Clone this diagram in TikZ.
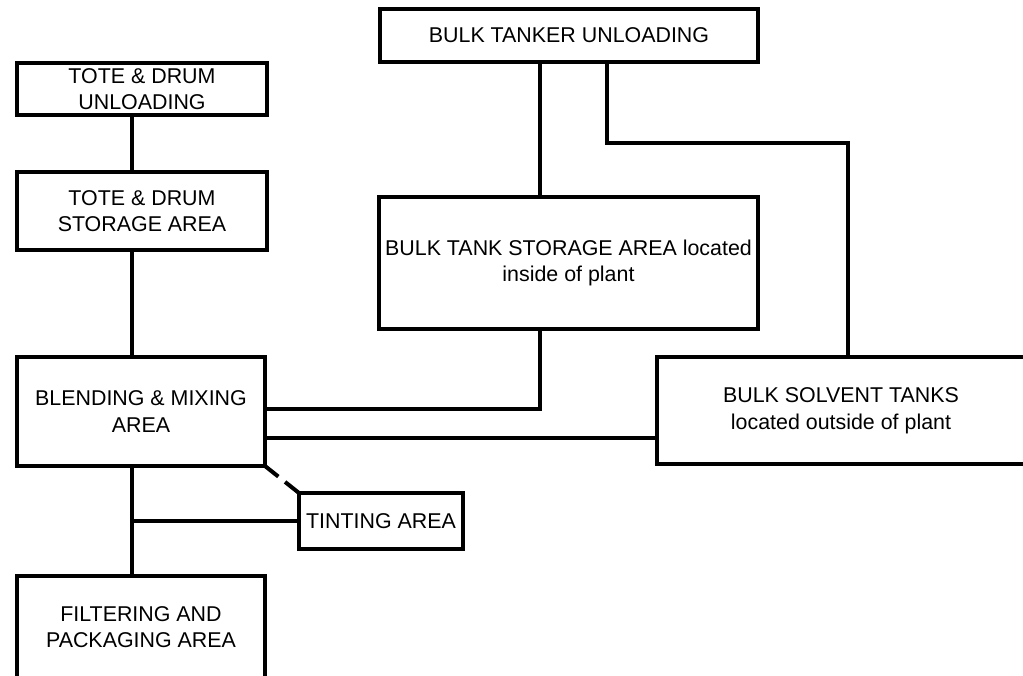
\documentclass[tikz,border=0pt]{standalone}
\usepackage{fontspec}
\setmainfont{Liberation Sans}
\begin{document}
\begin{tikzpicture}[x=1pt,y=-1pt,
  every node/.style={font=\fontsize{21.4}{26.5}\selectfont, align=center, inner sep=0pt, outer sep=0pt},
  area/.style={draw, line width=4pt, rectangle},
  openarea/.style={rectangle},
  link/.style={line width=4pt},
  dashlink/.style={line width=4pt, dash pattern=on 17pt off 8.6pt}]
\useasboundingbox (0,0) rectangle (1023,676);
% boxes
\node[area, minimum width=250pt, minimum height=52pt] (tdu) at (142,89) {TOTE \& DRUM\\UNLOADING};
\node[area, minimum width=250pt, minimum height=78pt] (tds) at (142,211) {TOTE \& DRUM\\STORAGE AREA};
\node[area, minimum width=248pt, minimum height=109pt] (blend) at (141,411.5) {BLENDING \& MIXING\\AREA};
\node[openarea, minimum width=248pt, minimum height=102pt] (filt) at (141,627) {FILTERING AND\\PACKAGING AREA};
\draw[link] (filt.south west) -- (filt.north west) -- (filt.north east) -- (filt.south east);
\node[area, minimum width=164pt, minimum height=56pt] (tint) at (381,521) {TINTING AREA};
\node[area, minimum width=378pt, minimum height=53pt] (btu) at (569,35.5) {BULK TANKER UNLOADING};
\node[area, minimum width=379pt, minimum height=132pt] (bstor) at (568.5,263) {BULK TANK STORAGE AREA located\\inside of plant};
\node[openarea, minimum width=368pt, minimum height=107pt] (solv) at (841,410.5) {BULK SOLVENT TANKS\\located outside of plant};
\draw[link] (solv.north east) -- (solv.north west) -- (solv.south west) -- (solv.south east);
% junction coordinates
\coordinate (spine) at (132,521);
\coordinate (j1) at (540,409);
\coordinate (j2) at (540,438);
\coordinate (j3) at (607,143);
\coordinate (j4) at (848,143);
% connectors
\draw[link] (tdu.south -| spine) -- (tds.north -| spine);
\draw[link] (tds.south -| spine) -- (blend.north -| spine);
\draw[link] (blend.south -| spine) -- (filt.north -| spine);
\draw[link] (spine) -- (tint.west);
\draw[dashlink] (blend.south east) -- (tint.north west);
\draw[link] (btu.south -| j1) -- (bstor.north -| j1);
\draw[link] (bstor.south -| j1) |- (blend.east |- j1);
\draw[link] (blend.east |- j2) -- (solv.west |- j2);
\draw[link] (btu.south -| j3) |- (j4) -- (solv.north -| j4);
\end{tikzpicture}
\end{document}
